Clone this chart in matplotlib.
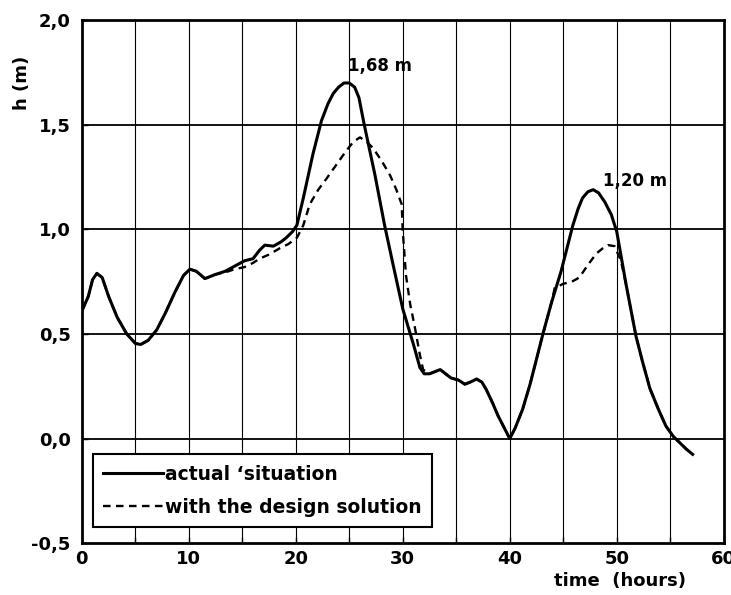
# Water level h over time: actual situation vs design solution

import numpy as np
import matplotlib.pyplot as plt

plt.rcParams['font.family'] = ['DejaVu Sans']

# actual situation (solid)
t_actual = [0.0, 0.6, 1.0, 1.4, 1.9, 2.5, 3.3, 4.2, 5.0, 5.5, 6.2, 7.0, 7.8, 8.7, 9.5,
            10.1, 10.7, 11.5, 12.5, 13.4, 14.3, 15.2, 16.0, 16.6, 17.1, 17.9, 18.6, 19.1,
            19.7, 20.1, 20.7, 21.6, 22.4, 23.0, 23.5, 24.0, 24.5, 25.0, 25.5, 25.9, 26.4,
            27.4, 28.3, 29.1, 30.0, 31.0, 31.6, 32.0, 32.5, 33.0, 33.5, 34.0, 34.5, 35.2,
            35.8, 36.3, 36.9, 37.4, 37.8, 38.4, 38.9, 39.5, 40.0, 40.5, 41.2, 41.9, 42.5,
            43.1, 43.9, 44.8, 45.4, 45.9, 46.4, 46.8, 47.3, 47.8, 48.3, 48.9, 49.5, 50.0,
            50.9, 51.8, 52.4, 53.1, 53.9, 54.6, 55.3, 55.9, 56.5, 57.1]
h_actual = [0.61, 0.68, 0.76, 0.79, 0.77, 0.68, 0.58, 0.50, 0.455, 0.45, 0.47, 0.52, 0.60,
            0.70, 0.78, 0.81, 0.80, 0.765, 0.785, 0.80, 0.825, 0.85, 0.86, 0.90, 0.925, 0.92,
            0.94, 0.96, 0.99, 1.02, 1.15, 1.36, 1.52, 1.60, 1.65, 1.68, 1.70, 1.70, 1.68,
            1.63, 1.50, 1.26, 1.02, 0.83, 0.62, 0.45, 0.34, 0.31, 0.31, 0.32, 0.33, 0.31,
            0.29, 0.28, 0.26, 0.27, 0.285, 0.27, 0.235, 0.17, 0.11, 0.05, 0.0, 0.05, 0.14,
            0.26, 0.38, 0.50, 0.65, 0.80, 0.92, 1.02, 1.10, 1.15, 1.18, 1.19, 1.175, 1.13,
            1.07, 0.99, 0.73, 0.49, 0.37, 0.24, 0.14, 0.06, 0.01, -0.02, -0.05, -0.075]

# with the design solution (dashed)
t_design = [0.0, 0.6, 1.0, 1.4, 1.9, 2.5, 3.3, 4.2, 5.0, 5.5, 6.2, 7.0, 7.8, 8.7, 9.5,
            10.1, 10.7, 11.5, 12.5, 13.4, 14.3, 15.2, 16.0, 16.6, 17.5, 18.5, 19.3, 20.1,
            20.7, 21.3, 22.1, 22.9, 23.8, 24.7, 25.4, 26.0, 26.6, 27.2, 28.0, 28.8, 29.4,
            29.9, 30.0, 30.3, 30.7, 31.1, 31.6, 31.9, 32.5, 33.0, 33.5, 34.0, 34.5, 35.2,
            35.8, 36.3, 36.9, 37.4, 37.8, 38.4, 38.9, 39.5, 40.0, 40.5, 41.2, 41.9, 42.5,
            43.1, 43.9, 44.2, 45.0, 45.8, 46.5, 47.3, 48.1, 48.7, 49.2, 49.8, 50.4, 50.9,
            51.8, 52.4, 53.1, 53.9, 54.6, 55.3, 55.9, 56.5, 57.1]
h_design = [0.61, 0.68, 0.76, 0.79, 0.77, 0.68, 0.58, 0.50, 0.455, 0.45, 0.47, 0.52, 0.60,
            0.70, 0.78, 0.81, 0.80, 0.765, 0.785, 0.795, 0.81, 0.82, 0.84, 0.86, 0.88, 0.91,
            0.93, 0.96, 1.02, 1.12, 1.19, 1.245, 1.31, 1.375, 1.42, 1.44, 1.42, 1.39, 1.33,
            1.26, 1.19, 1.12, 0.99, 0.78, 0.64, 0.54, 0.40, 0.33, 0.31, 0.32, 0.33, 0.31,
            0.29, 0.28, 0.26, 0.27, 0.285, 0.27, 0.235, 0.17, 0.11, 0.05, 0.0, 0.05, 0.14,
            0.26, 0.38, 0.50, 0.65, 0.72, 0.74, 0.75, 0.77, 0.83, 0.885, 0.91, 0.925, 0.92,
            0.85, 0.73, 0.49, 0.37, 0.24, 0.14, 0.06, 0.01, -0.02, -0.05, -0.075]

x_ticks = [0, 10, 20, 30, 40, 50, 60]
y_ticks = [-0.5, 0.0, 0.5, 1.0, 1.5, 2.0]
y_tick_labels = ['-0,5', '0,0', '0,5', '1,0', '1,5', '2,0']

fig = plt.figure(figsize=(7.31, 5.95), dpi=100)
ax = fig.add_axes([0.112, 0.087, 0.878, 0.879])

ax.plot(t_actual, h_actual, '-', color='black', lw=2.2, label="actual \u2018situation",
        solid_joinstyle='round')
ax.plot(t_design, h_design, '--', color='black', lw=1.7, dashes=(3.2, 2.3),
        label='with the design solution')

ax.set_xlim(0, 60)
ax.set_ylim(-0.5, 2.0)

# grid every 5 hours and every 0,5 m
for xv in np.arange(5, 60, 5):
    ax.axvline(xv, color='black', lw=0.8, zorder=0)
for yv in np.arange(0.0, 2.0, 0.5):
    ax.axhline(yv, color='black', lw=1.3, zorder=0)

ax.set_xticks(x_ticks)
ax.set_xticks(np.arange(5, 60, 10), minor=True)
ax.set_yticks(y_ticks)
ax.set_yticklabels(y_tick_labels)
ax.tick_params(axis='both', which='both', direction='in', length=4, width=1,
               labelsize=13, pad=5)
ax.tick_params(axis='y', pad=8)
for lab in ax.get_xticklabels() + ax.get_yticklabels():
    lab.set_fontweight('bold')

for s in ax.spines.values():
    s.set_linewidth(2)

ax.set_ylabel('h (m)', fontsize=13, fontweight='bold')
ax.yaxis.set_label_coords(-0.08, 0.88)
ax.set_xlabel('time  (hours)', fontsize=13, fontweight='bold')
ax.xaxis.set_label_coords(0.838, -0.055)

# peak labels
ax.text(24.9, 1.78, '1,68 m', fontsize=12, fontweight='bold', va='center')
ax.text(48.7, 1.23, '1,20 m', fontsize=12, fontweight='bold', va='center')

leg = ax.legend(loc='lower left', bbox_to_anchor=(0.017, 0.031), borderaxespad=0,
                handlelength=3.2, handletextpad=0.1, fancybox=False,
                framealpha=1, edgecolor='black', borderpad=0.55, labelspacing=0.75,
                prop={'weight': 'bold', 'size': 13.5})
leg.get_frame().set_linewidth(1.5)

plt.savefig('out.png', dpi=100)
